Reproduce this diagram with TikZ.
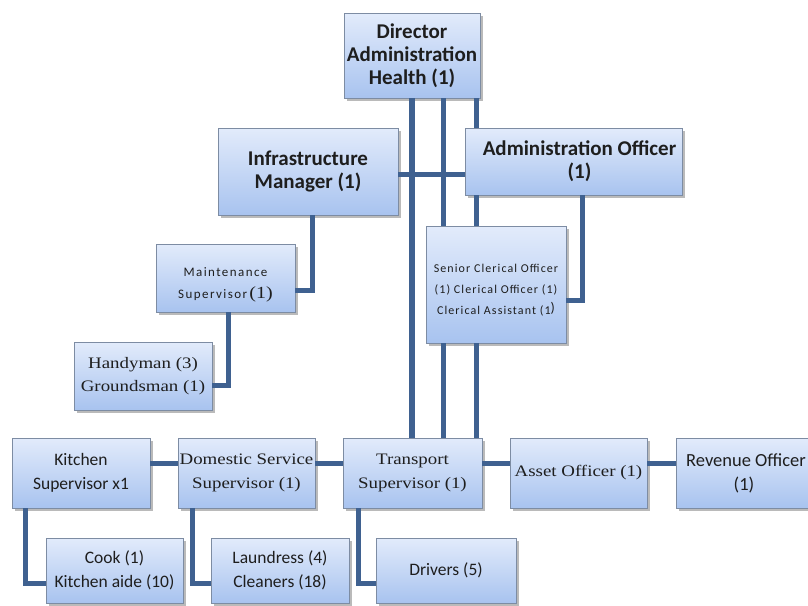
\documentclass[tikz,border=0pt]{standalone}
\usepackage{fontspec}
\setmainfont{Carlito}
\newfontfamily\camb[FakeStretch=1.18]{Liberation Serif}
\newfontfamily\tracked[LetterSpace=9]{Carlito}
\newfontfamily\widetracked[LetterSpace=11]{Carlito}
\usetikzlibrary{shadows}
\definecolor{linkblue}{HTML}{3F6190}
\definecolor{boxtop}{HTML}{E2EBFB}
\definecolor{boxbot}{HTML}{A8C3EF}
\definecolor{boxline}{HTML}{7D8CA3}
\definecolor{txt}{HTML}{1E1E1E}
\tikzset{
  orgbox/.style={draw=boxline, line width=0.8pt, top color=boxtop, bottom color=boxbot,
    inner sep=0pt, align=center, text=txt,
    drop shadow={shadow xshift=2.5pt, shadow yshift=-2.5pt, opacity=0.45, fill=black!60}},
  headfont/.style={font=\fontsize{21}{23}\selectfont\bfseries},
  sansfont/.style={font=\fontsize{17.5}{24}\selectfont},
  seriffont/.style={font=\camb\fontsize{16}{24}\selectfont},
  tinyfont/.style={font=\tracked\fontsize{12}{21}\selectfont},
  link/.style={draw=linkblue, line width=5pt},
}
\begin{document}
\begin{tikzpicture}[x=1pt,y=-1pt]
\useasboundingbox (0,0) rectangle (808,605);

% top level
\node[orgbox, headfont, minimum width=136pt, minimum height=85pt] (dir) at (412,55.5)
  {Director\\Administration\\Health (1)};
\node[orgbox, headfont, minimum width=180pt, minimum height=87pt] (infra) at (308,171.5)
  {Infrastructure\\Manager (1)};
\node[orgbox, headfont, minimum width=217pt, minimum height=67pt] (admin) at (573.5,161.5)
  {\hspace*{12pt}Administration Officer\\\hspace*{12pt}(1)};

% second level
\node[orgbox, font=\widetracked\fontsize{13}{22}\selectfont, minimum width=139pt, minimum height=68pt] (maint) at (225.5,278)
  {\rule{0pt}{22pt}Maintenance\\Supervisor\,{\camb\fontsize{17}{17}\selectfont(1)}};
\node[orgbox, minimum width=138pt, minimum height=68pt, font=\camb\fontsize{16}{23}\selectfont] (handy) at (143,376)
  {Handyman (3)\\Groundsman (1)};
\node[orgbox, tinyfont, minimum width=140pt, minimum height=117pt] (cler) at (496,284.5)
  {\rule{0pt}{20pt}Senior Clerical Officer\\(1) Clerical Officer (1)\\Clerical Assistant (1\raisebox{2pt}{\fontsize{14}{14}\selectfont)}};

% supervisors row
\node[orgbox, sansfont, minimum width=138pt, minimum height=70pt] (kitchen) at (81,473)
  {Kitchen\\Supervisor x1};
\node[orgbox, seriffont, minimum width=137pt, minimum height=70pt] (dom) at (246.5,473)
  {Domestic Service\\Supervisor (1)};
\node[orgbox, seriffont, minimum width=139pt, minimum height=70pt] (trans) at (412.5,473)
  {Transport\\Supervisor (1)};
\node[orgbox, seriffont, minimum width=137pt, minimum height=70pt] (asset) at (578.5,473)
  {Asset Officer (1)};
\node[orgbox, minimum width=136pt, minimum height=70pt, font=\fontsize{18.5}{24}\selectfont] (rev) at (744,473)
  {\hspace*{4pt}Revenue Officer\\(1)};

% staff row
\node[orgbox, sansfont, minimum width=137pt, minimum height=65pt] (cook) at (114.5,570.5)
  {Cook (1)\\Kitchen aide (10)};
\node[orgbox, sansfont, minimum width=138pt, minimum height=65pt] (laund) at (280,570.5)
  {Laundress (4)\\Cleaners (18)};
\node[orgbox, sansfont, minimum width=140pt, minimum height=65pt] (drivers) at (446,570.5)
  {Drivers (5)};

% trunk lines from the director
\coordinate (ta) at ([xshift=31pt]dir.south);
\coordinate (tb) at ([xshift=64pt]dir.south);
\draw[link, line width=6pt] (dir.south) -- (dir.south |- trans.north);
\draw[link] (ta) -- (ta |- cler.north);
\draw[link] (ta |- cler.south) -- (ta |- trans.north);
\draw[link] (tb) -- (tb |- admin.north);
\draw[link] (tb |- admin.south) -- (tb |- cler.north);
\draw[link] (tb |- cler.south) -- (tb |- trans.north);

% management links
\draw[link] ([yshift=-2.5pt]infra.east) -- ([yshift=-2.5pt]infra.east -| admin.west);
\draw[link] ([xshift=4pt]infra.south) |- ([yshift=-12pt]maint.east);
\draw[link] ([xshift=2.5pt]maint.south) |- ([yshift=-9pt]handy.east);
\draw[link] ([xshift=8.5pt]admin.south) |- ([yshift=-15.5pt]cler.east);

% supervisors row links
\draw[link] ([yshift=10pt]kitchen.east) -- ([yshift=10pt]dom.west);
\draw[link] ([yshift=10pt]dom.east) -- ([yshift=10pt]trans.west);
\draw[link] ([yshift=10pt]trans.east) -- ([yshift=10pt]asset.west);
\draw[link] ([yshift=10pt]asset.east) -- ([yshift=10pt]rev.west);

% staff links
\draw[link] ([xshift=-56pt]kitchen.south) |- ([yshift=-13pt]cook.west);
\draw[link] ([xshift=-54.5pt]dom.south) |- ([yshift=-13pt]laund.west);
\draw[link] ([xshift=-54.5pt]trans.south) |- ([yshift=-13pt]drivers.west);
\end{tikzpicture}
\end{document}
